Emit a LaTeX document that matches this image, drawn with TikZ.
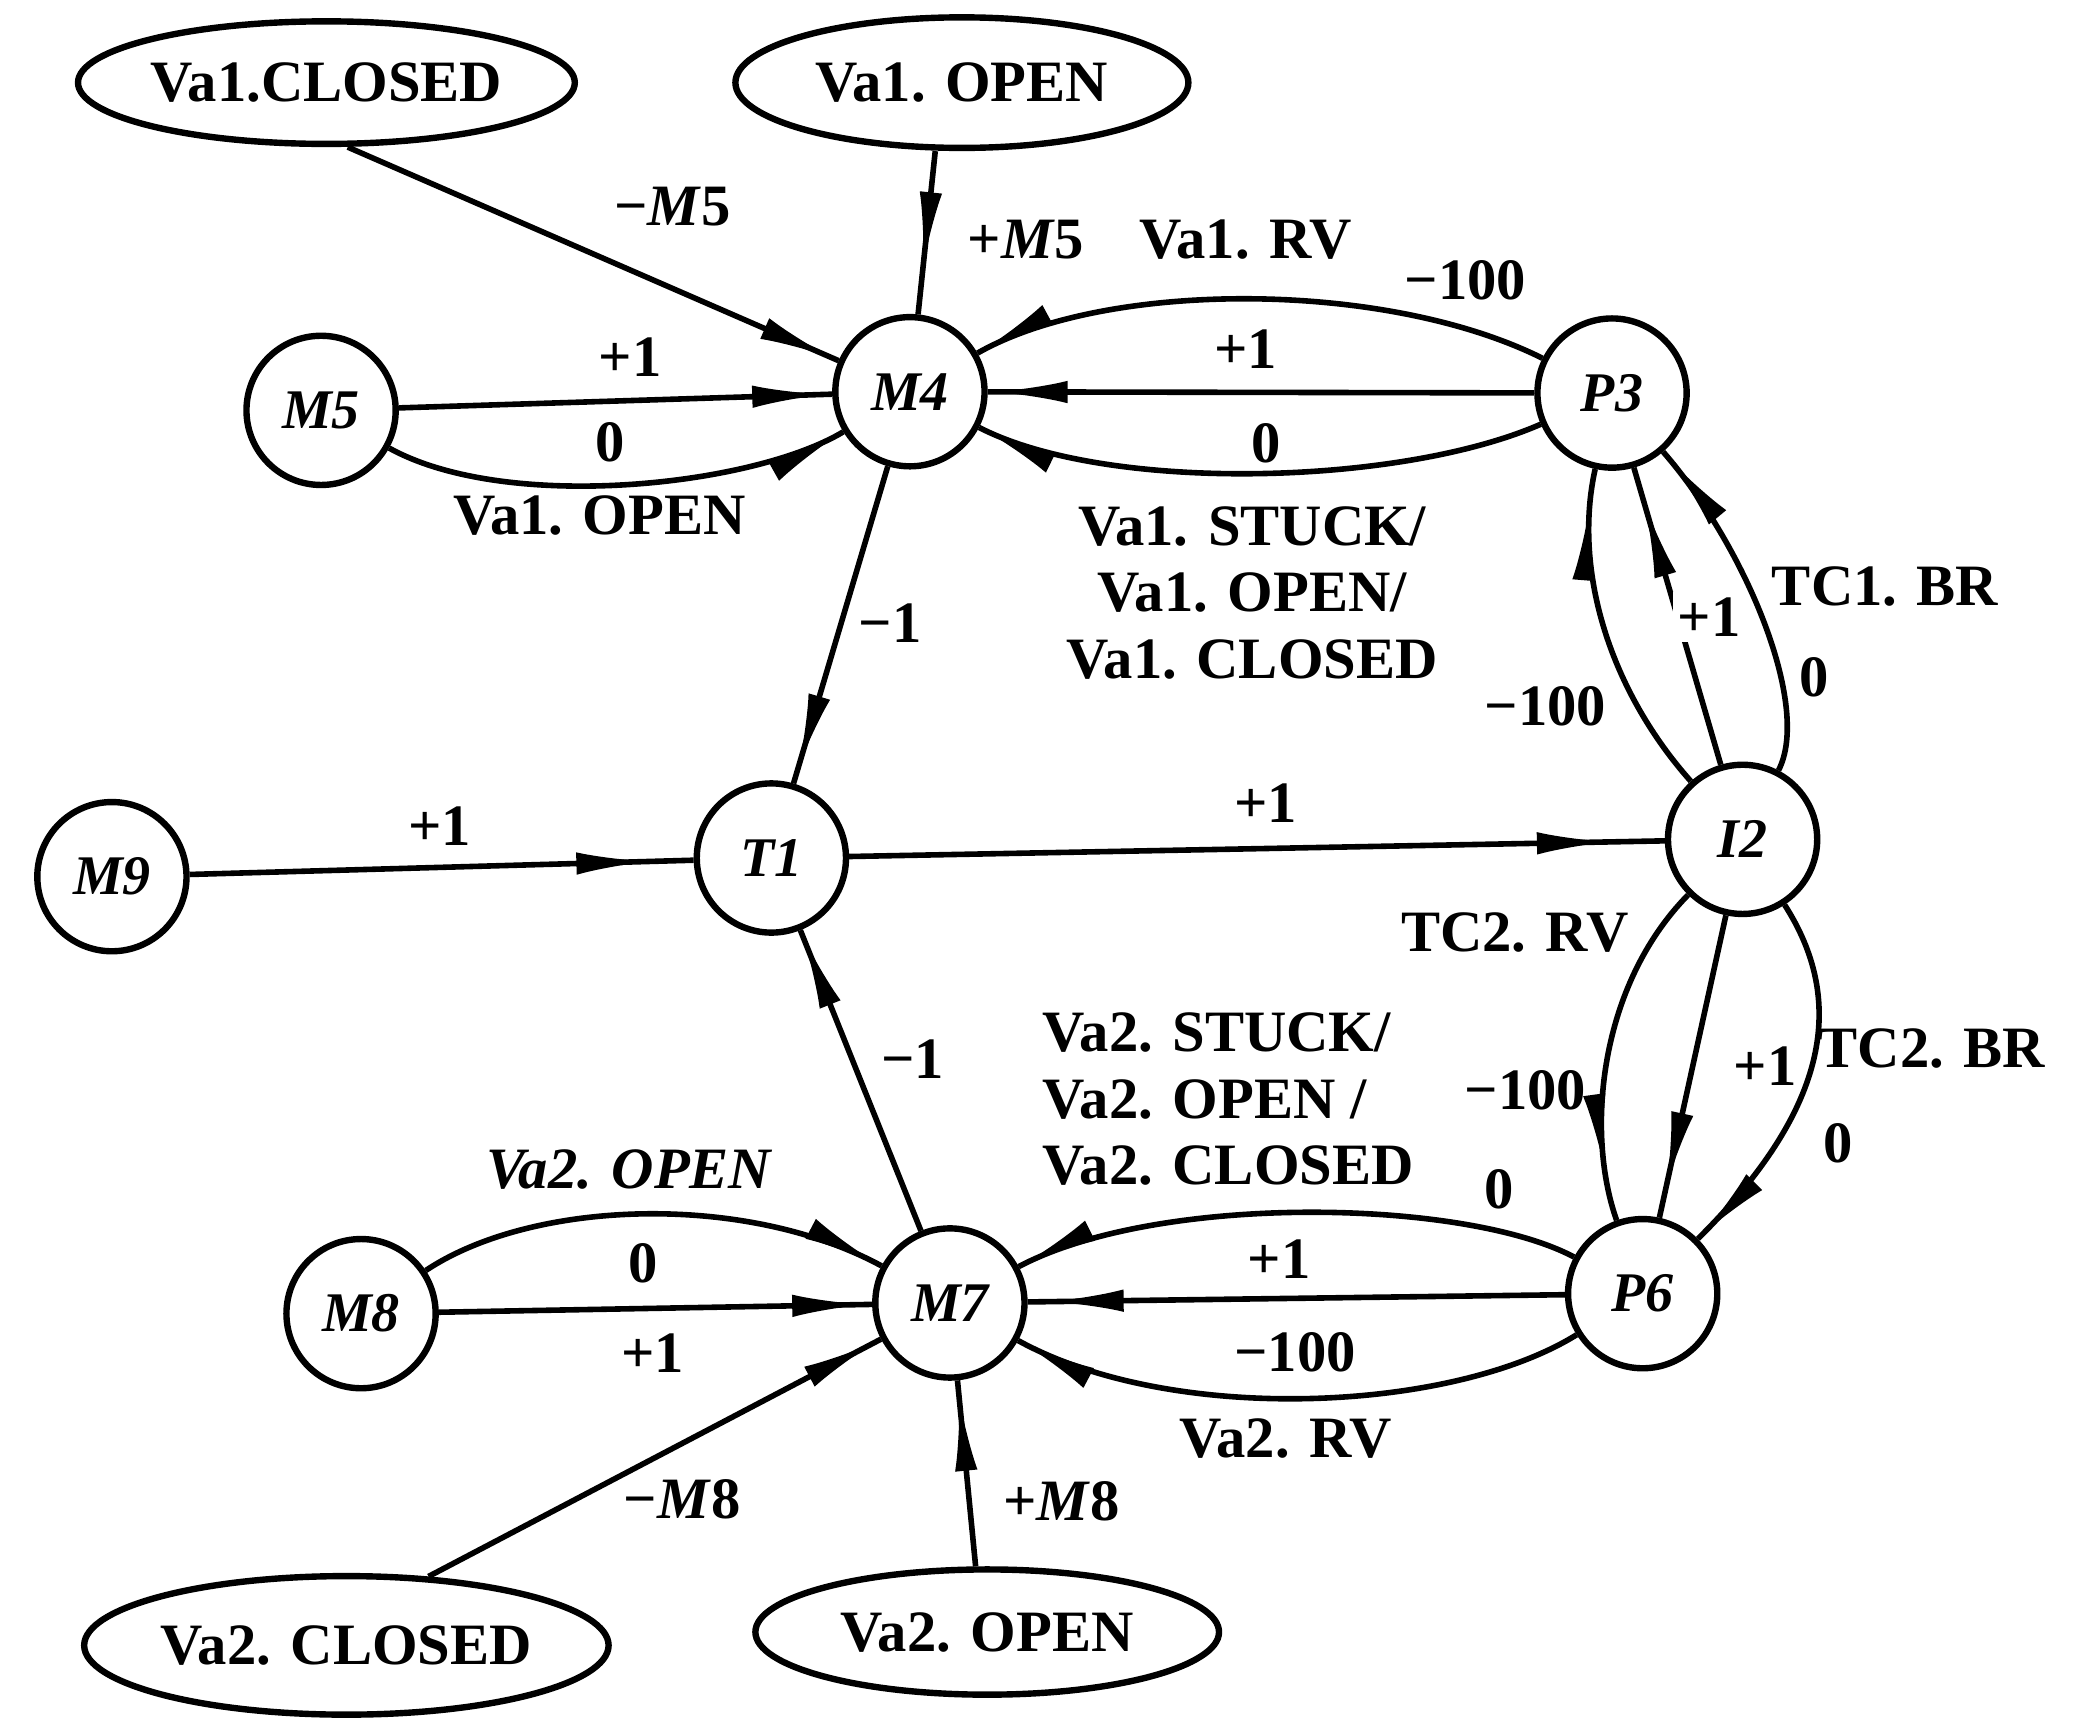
\documentclass[tikz,border=0pt]{standalone}
\usepackage{fontspec}
\setmainfont{Liberation Serif}
\usetikzlibrary{arrows.meta,decorations.markings,shapes.geometric}
\begin{document}
\begin{tikzpicture}[x=0.25pt,y=-0.25pt,
  every node/.style={font=\fontsize{11}{12.5}\selectfont\bfseries},
  st/.style={circle,draw,line width=1.2pt,minimum size=28pt,inner sep=0pt,font=\fontsize{10.5}{12}\selectfont\bfseries\itshape},
  ov/.style={ellipse,draw,line width=1.2pt,inner sep=0pt},
  ln/.style={line width=1.05pt},
  arr/.style={ln,postaction={decorate},decoration={markings,mark=at position -#1 with {\arrow{Latex[length=14pt,width=4.2pt]}}}},
  arr/.default=1pt,
  lb/.style={inner sep=1pt}
]
\useasboundingbox (0,0) rectangle (1568,1290);

% states
\node[ov,minimum width=87.5pt,minimum height=23pt] (E1) at (245,62) {Va1.CLOSED};
\node[ov,minimum width=85pt,minimum height=24.5pt] (E2) at (722,62) {Va1. OPEN};
\node[st] (M5) at (241,308) {M5};
\node[st] (M4) at (683,294) {M4};
\node[st] (P3) at (1210,295) {P3};
\node[st] (I2) at (1308,630) {I2};
\node[st] (T1) at (579,644) {T1};
\node[st] (M9) at (84,658) {M9};
\node[st] (M8) at (271,986) {M8};
\node[st] (M7) at (713,978) {M7};
\node[st] (P6) at (1233,971) {P6};
\node[ov,minimum width=92pt,minimum height=26pt] (E3) at (260,1235) {Va2. CLOSED};
\node[ov,minimum width=87pt,minimum height=23.5pt] (E4) at (741,1225) {Va2. OPEN};

% connectors
\draw[arr] ([xshift=4pt]E1.south) -- (M4);
\draw[arr=9pt] ([xshift=-5pt]E2.south) -- (M4);
\draw[arr] (M5) -- (M4);
\draw[arr] (M5) .. controls (380,385) and (565,365) .. (M4);
\draw[arr] (P3) .. controls (1040,210) and (830,210) .. (M4);
\draw[arr] (P3) -- (M4);
\draw[arr] (P3) .. controls (1050,365) and (830,370) .. (M4);
\draw[arr=3pt] (M4) -- (T1);
\draw[arr=8pt] (M9) -- (T1);
\draw[arr=10pt] (T1) -- (I2);
\draw[arr=7pt] (I2) .. controls (1210,520) and (1180,430) .. (P3);
\draw[arr=7pt] (I2) -- (P3);
\draw[arr=2pt] (I2) .. controls (1360,530) and (1310,410) .. (P3);
\draw[arr=10pt] (I2) .. controls (1200,740) and (1190,850) .. (P6);
\draw[arr=6pt] (I2) -- (P6);
\draw[arr] (I2) .. controls (1385,750) and (1375,830) .. (P6);
\draw[arr] (P6) .. controls (1100,900) and (870,895) .. (M7);
\draw[arr=4pt] (P6) -- (M7);
\draw[arr] (P6) .. controls (1090,1060) and (880,1070) .. (M7);
\draw[arr] (M8) .. controls (400,900) and (560,895) .. (M7);
\draw[arr] (M8) -- (M7);
\draw[arr] (E3.40) -- (M7);
\draw[arr=3pt] (E4.100) -- (M7);
\draw[arr] (M7) -- (T1);

% labels
\node[lb] (l1) at (505,155) {−\textit{M}5};
\node[lb] (l2) at (770,180) {+\textit{M}5};
\node[lb] (l3) at (935,180) {Va1. RV};
\node[lb] (l4) at (1100,210) {−100};
\node[lb] (l5) at (473,268) {+1};
\node[lb] (l6) at (935,262) {+1};
\node[lb] (l7) at (458,332) {0};
\node[lb] (l8) at (950,333) {0};
\node[lb] (l9) at (450,387) {Va1. OPEN};
\node[lb,align=center] (l10) at (940,445) {Va1. STUCK/\\Va1. OPEN/\\Va1. CLOSED};
\node[lb] (l11) at (1415,440) {TC1. BR};
\node[lb,fill=white] (l12) at (1283,463) {+1};
\node[lb] (l13) at (1362,508) {0};
\node[lb] (l14) at (1160,530) {−100};
\node[lb] (l15) at (668,468) {−1};
\node[lb] (l16) at (330,620) {+1};
\node[lb] (l17) at (950,603) {+1};
\node[lb] (l18) at (1137,700) {TC2. RV};
\node[lb,align=left,anchor=west] (l19) at (778,825) {Va2. STUCK/\\Va2. OPEN /\\Va2. CLOSED};
\node[lb] (l20) at (685,795) {−1};
\node[lb] (l21) at (1145,818) {−100};
\node[lb] (l22) at (1325,800) {+1};
\node[lb] (l23) at (1450,787) {TC2. BR};
\node[lb] (l24) at (1380,858) {0};
\node[lb] (l25) at (472,878) {\itshape Va2. OPEN};
\node[lb] (l26) at (483,948) {0};
\node[lb] (l27) at (1125,893) {0};
\node[lb] (l28) at (960,945) {+1};
\node[lb] (l29) at (490,1016) {+1};
\node[lb] (l30) at (972,1015) {−100};
\node[lb] (l31) at (965,1080) {Va2. RV};
\node[lb] (l32) at (512,1125) {−\textit{M}8};
\node[lb] (l33) at (797,1127) {+\textit{M}8};
\end{tikzpicture}
\end{document}
